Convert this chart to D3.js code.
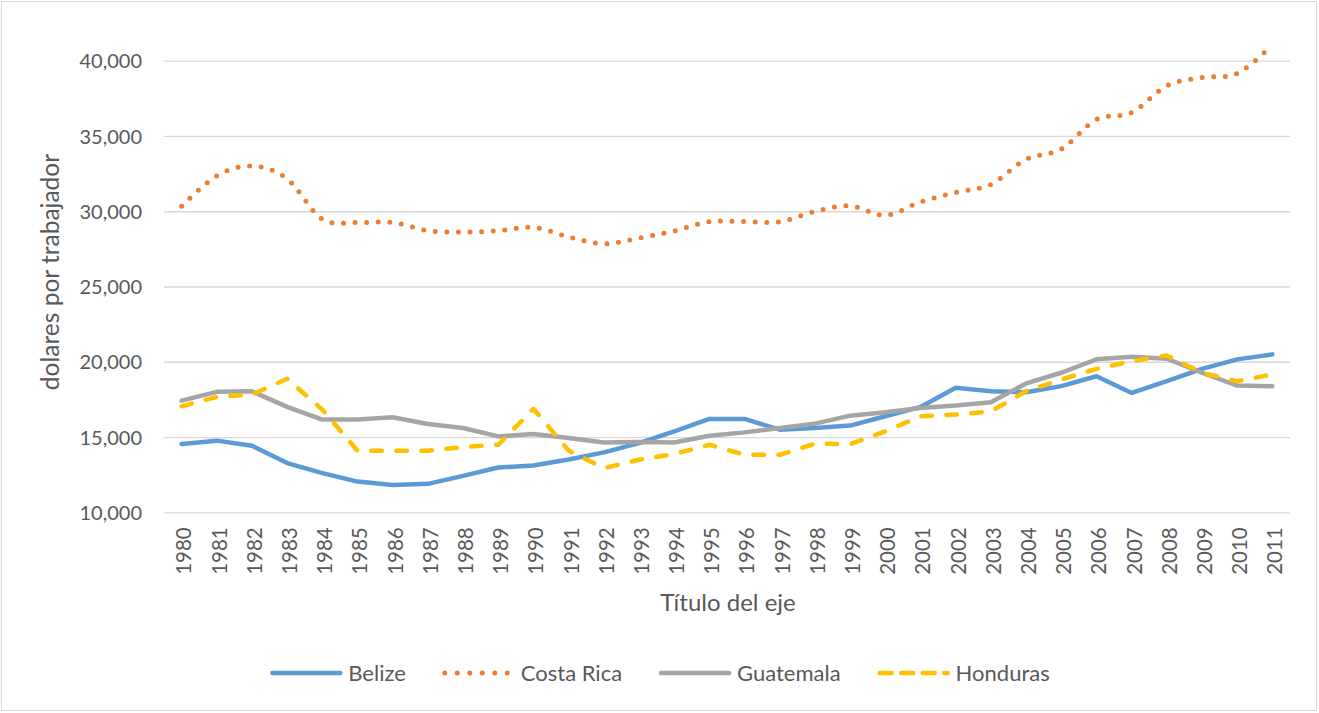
<!DOCTYPE html>
<html>
<head>
<meta charset="utf-8">
<script src="https://cdn.jsdelivr.net/npm/d3@7/dist/d3.min.js"></script>
<style>
  html, body { margin: 0; padding: 0; background: #fff; }
  svg { display: block; font-family: Lato, "Open Sans", sans-serif; }
</style>
</head>
<body>
<svg id="chart" width="1319" height="713"></svg>
<script>
const years = ["1980","1981","1982","1983","1984","1985","1986","1987","1988","1989","1990","1991","1992","1993","1994","1995","1996","1997","1998","1999","2000","2001","2002","2003","2004","2005","2006","2007","2008","2009","2010","2011"];
const belize = [14530,14760,14420,13270,12600,12040,11820,11890,12420,12980,13110,13510,13980,14600,15380,16200,16200,15490,15600,15760,16380,17000,18270,18040,17980,18380,19040,17930,18710,19530,20160,20490];
const costaRica = [30330,32350,33000,32150,29470,29250,29250,28710,28620,28700,28930,28290,27840,28220,28690,29310,29310,29300,29980,30360,29730,30620,31240,31780,33450,34130,36100,36560,38330,38890,39150,41050];
const guatemala = [17420,18000,18040,17000,16160,16160,16310,15870,15600,15040,15200,14930,14640,14670,14640,15090,15310,15600,15890,16420,16640,16930,17090,17310,18560,19270,20160,20330,20200,19270,18420,18380];
const honduras = [17040,17670,17820,18870,16820,14090,14090,14090,14330,14490,16870,14100,12930,13490,13870,14490,13820,13820,14560,14530,15380,16380,16490,16710,18040,18820,19530,20040,20420,19270,18710,19160];
const seriesNames = ["Belize","Costa Rica","Guatemala","Honduras"];
const yTicks = [10000,15000,20000,25000,30000,35000,40000];
const yTitle = "dolares por trabajador";
const xTitle = "Título del eje";

const W = 1319, H = 713;
const plot = {left: 164, right: 1290, top: 60.7, bottom: 512.3};
const svg = d3.select("#chart");
const textColor = "#595959";

// chart border
svg.append("rect").attr("x", 1.5).attr("y", 1.5).attr("width", W - 4).attr("height", H - 4)
  .attr("fill", "#fff").attr("stroke", "#D9D9D9").attr("stroke-width", 1);

const x = d3.scaleBand().domain(years).range([plot.left, plot.right]);
const y = d3.scaleLinear().domain([10000, 40000]).range([plot.bottom, plot.top]);
const cx = d => x(d) + x.bandwidth() / 2;

// gridlines + y labels via axis
const yAxis = d3.axisLeft(y).tickValues(yTicks).tickFormat(d3.format(",")).tickSize(-(plot.right - plot.left)).tickPadding(22);
const gy = svg.append("g").attr("transform", `translate(${plot.left},0)`).call(yAxis);
gy.select(".domain").remove();
gy.selectAll(".tick line").attr("stroke", "#D9D9D9").attr("stroke-width", 1.3);
gy.selectAll(".tick text").attr("fill", textColor).style("font-size", "20px").attr("font-family", "Lato").attr("dy", "0.36em");

// x axis labels
const xAxis = d3.axisBottom(x).tickSize(0).tickPadding(0);
const gx = svg.append("g").attr("transform", `translate(0,${plot.bottom})`).call(xAxis);
gx.select(".domain").remove();
gx.selectAll(".tick text")
  .attr("fill", textColor).style("font-size", "20.5px").attr("font-family", "Lato")
  .attr("text-anchor", "end")
  .attr("transform", "translate(0,15) rotate(-90)")
  .attr("x", 0).attr("y", 0).attr("dy", "0.48em");

// axis titles
svg.append("text").attr("x", (plot.left + plot.right) / 2 + 1).attr("y", 611)
  .attr("text-anchor", "middle").attr("fill", textColor).style("font-size", "24px").text(xTitle);
svg.append("text").attr("transform", "translate(59,272) rotate(-90)")
  .attr("text-anchor", "middle").attr("fill", textColor).style("font-size", "24.5px").text(yTitle);

const styles = [
  {name: seriesNames[0], data: belize, color: "#5B9BD5", dash: null, curve: d3.curveLinear},
  {name: seriesNames[1], data: costaRica, color: "#ED7D31", dash: "0,11.6", curve: d3.curveCatmullRom.alpha(0)},
  {name: seriesNames[2], data: guatemala, color: "#A5A5A5", dash: null, curve: d3.curveLinear},
  {name: seriesNames[3], data: honduras, color: "#FFC000", dash: "10.5,14.5", curve: d3.curveLinear}
];

styles.forEach(s => {
  const line = d3.line().x((d, i) => cx(years[i])).y(d => y(d)).curve(s.curve);
  svg.append("path").datum(s.data).attr("d", line)
    .attr("fill", "none").attr("stroke", s.color).attr("stroke-width", s.dash === "0,11.6" ? 5 : 4.5)
    .attr("stroke-linecap", "round").attr("stroke-linejoin", "round")
    .attr("stroke-dasharray", s.dash);
});

// legend
const legY = 673;
const leg = svg.append("g");
const items = [];
styles.forEach((s, i) => {
  const g = leg.append("g");
  g.append("line").attr("x1", 3).attr("x2", 71).attr("y1", legY).attr("y2", legY)
    .attr("stroke", s.color).attr("stroke-width", s.dash === "0,11.6" ? 5 : 4.5).attr("stroke-linecap", "round")
    .attr("stroke-dasharray", s.dash === "0,11.6" ? "0,12.5" : (s.dash ? "12,9.5" : null));
  const t = g.append("text").attr("x", 79).attr("y", legY).attr("dy", "0.36em")
    .attr("fill", textColor).style("font-size", "22px").text(s.name);
  const w = 79 + t.node().getComputedTextLength();
  items.push({g, w});
});
const gap = 36;
const total = d3.sum(items, d => d.w) + gap * (items.length - 1);
let start = W / 2 - total / 2;
items.forEach(it => { it.g.attr("transform", `translate(${start},0)`); start += it.w + gap; });
</script>
</body>
</html>
